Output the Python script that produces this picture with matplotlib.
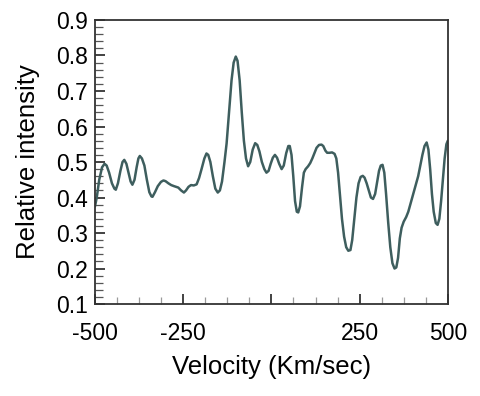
import matplotlib
matplotlib.use("Agg")
import matplotlib.pyplot as plt
from matplotlib.ticker import MultipleLocator, FixedLocator

velocity = [-500, -495, -488, -480, -473, -467, -460, -452, -445, -441, -435, -428, -422, -417,
            -411, -405, -399, -394, -388, -382, -377, -373, -367, -360, -353, -346, -340, -337,
            -330, -322, -313, -306, -300, -292, -284, -276, -264, -256, -248, -242, -235, -228,
            -220, -212, -205, -198, -190, -184, -179, -173, -166, -159, -152, -146, -140, -133,
            -127, -120, -113, -107, -101, -96, -90, -84, -78, -72, -66, -60, -53, -46, -40, -34,
            -27, -20, -14, -8, -2, 4, 10, 16, 22, 29, 35, 42, 48, 52, 57, 62, 67, 72, 76, 81, 87,
            92, 97, 104, 110, 116, 122, 128, 135, 142, 147, 153, 158, 165, 172, 179, 184, 189,
            194, 200, 206, 212, 218, 224, 229, 235, 241, 247, 253, 259, 264, 270, 276, 282, 288,
            294, 299, 305, 310, 315, 320, 325, 331, 337, 343, 349, 354, 359, 364, 369, 375, 382,
            388, 395, 402, 409, 416, 422, 428, 434, 440, 445, 450, 455, 460, 466, 471, 476, 481,
            486, 491, 496, 500]
intensity = [0.375, 0.40, 0.45, 0.485, 0.495, 0.49, 0.47, 0.44, 0.425, 0.422, 0.44, 0.475, 0.50, 0.506,
             0.495, 0.47, 0.445, 0.436, 0.45, 0.485, 0.51, 0.517, 0.51, 0.49, 0.45, 0.415, 0.403, 0.402,
             0.415, 0.432, 0.444, 0.448, 0.446, 0.44, 0.435, 0.432, 0.428, 0.42, 0.414, 0.42, 0.43, 0.435,
             0.434, 0.437, 0.455, 0.48, 0.51, 0.524, 0.52, 0.50, 0.46, 0.425, 0.414, 0.42, 0.445, 0.50,
             0.552, 0.64, 0.73, 0.78, 0.797, 0.785, 0.73, 0.64, 0.56, 0.51, 0.488, 0.50, 0.535, 0.553, 0.548, 0.53,
             0.50, 0.48, 0.470, 0.475, 0.495, 0.512, 0.520, 0.512, 0.495, 0.480, 0.49, 0.525, 0.545, 0.545, 0.52,
             0.46, 0.39, 0.36, 0.358, 0.375, 0.43, 0.47, 0.48, 0.488, 0.497, 0.51, 0.525, 0.54, 0.548, 0.549,
             0.545, 0.532, 0.526, 0.526, 0.527, 0.523, 0.51, 0.47, 0.41, 0.34, 0.29, 0.26, 0.25, 0.252, 0.28,
             0.34, 0.40, 0.44, 0.458, 0.461, 0.456, 0.44, 0.42, 0.40, 0.396, 0.41, 0.44, 0.475, 0.49, 0.492,
             0.47, 0.41, 0.33, 0.26, 0.215, 0.20, 0.203, 0.23, 0.285, 0.315, 0.332, 0.345, 0.36, 0.385, 0.41,
             0.435, 0.46, 0.49, 0.52, 0.545, 0.555, 0.535, 0.48, 0.41, 0.36, 0.328, 0.323, 0.34, 0.39, 0.45,
             0.51, 0.55, 0.56]

xtick_values = [-500, -250, 0, 250, 500]
xtick_labels = ["-500", "-250", "", "250", "500"]
ytick_values = [0.1, 0.2, 0.3, 0.4, 0.5, 0.6, 0.7, 0.8, 0.9]
ytick_labels = ["0.1", "0.2", "0.3", "0.4", "0.5", "0.6", "0.7", "0.8", "0.9"]

plt.rcParams['font.family'] = ['Liberation Sans', 'DejaVu Sans']

fig = plt.figure(figsize=(4.81, 3.96), dpi=100)
ax = fig.add_axes([0.1975, 0.2323, 0.7335, 0.7172])

ax.plot(velocity, intensity, color='#3e5e5e', lw=1.8, solid_joinstyle='round', solid_capstyle='round')

ax.set_xlim(-500, 500)
ax.set_ylim(0.1, 0.9)

ax.xaxis.set_major_locator(FixedLocator(xtick_values))
ax.set_xticklabels(xtick_labels)
ax.xaxis.set_minor_locator(MultipleLocator(62.5))
ax.set_yticks(ytick_values)
ax.set_yticklabels(ytick_labels)
ax.yaxis.set_minor_locator(MultipleLocator(0.02))

ax.tick_params(which='major', direction='in', length=7, width=1.2, labelsize=16.5, color='#222222')
ax.tick_params(axis='x', which='minor', direction='in', length=5, width=0.9, color='#9a9a9a')
ax.tick_params(axis='y', which='minor', direction='in', length=5.5, width=0.9, color='#555555')
ax.tick_params(axis='x', which='major', pad=13)
ax.tick_params(axis='y', which='major', pad=5)

for s in ax.spines.values():
    s.set_linewidth(1.3)
    s.set_color('#333333')

ax.set_xlabel("Velocity (Km/sec)", fontsize=18.5, labelpad=7)
ax.set_ylabel("Relative intensity", fontsize=18.5, labelpad=12)

fig.savefig("out.png", dpi=100)
